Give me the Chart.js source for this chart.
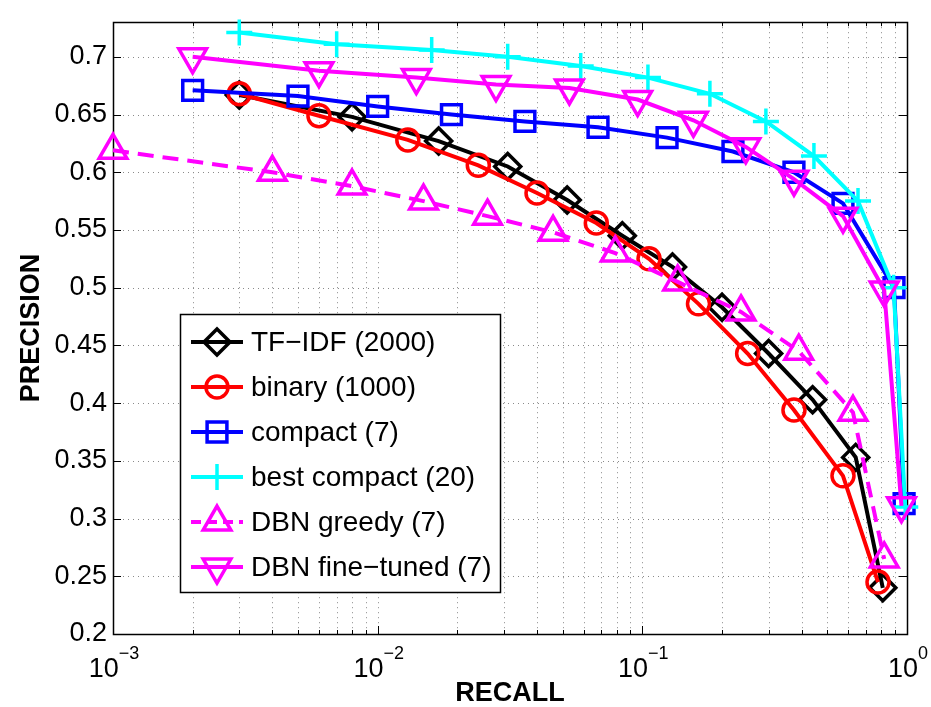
<!DOCTYPE html>
<html>
<head>
<meta charset="utf-8">
<title>Precision / Recall</title>
<script src="https://cdn.jsdelivr.net/npm/chart.js@4.4.1/dist/chart.umd.min.js"></script>
<style>
  html, body { margin: 0; padding: 0; background: #fff; }
  canvas { display: block; }
</style>
</head>
<body>
<canvas id="pr-chart" width="931" height="707"></canvas>
<script>
// ---- data (recall on x, precision on y) ----
const seriesNames = ['TF−IDF (2000)', 'binary (1000)', 'compact (7)', 'best compact (20)', 'DBN greedy (7)', 'DBN fine−tuned (7)'];

const tfidfRecall    = [0.003, 0.008, 0.017, 0.031, 0.052, 0.084, 0.13, 0.20, 0.30, 0.44, 0.64, 0.81];
const tfidfPrecision = [0.667, 0.648, 0.627, 0.605, 0.576, 0.545, 0.518, 0.483, 0.443, 0.403, 0.353, 0.240];

const binaryRecall    = [0.003, 0.006, 0.013, 0.024, 0.040, 0.067, 0.106, 0.163, 0.25, 0.374, 0.573, 0.777];
const binaryPrecision = [0.668, 0.649, 0.628, 0.606, 0.582, 0.556, 0.525, 0.486, 0.443, 0.394, 0.337, 0.245];

const compactRecall    = [0.002, 0.005, 0.010, 0.019, 0.036, 0.068, 0.124, 0.22, 0.374, 0.573, 0.893, 0.975];
const compactPrecision = [0.671, 0.666, 0.657, 0.650, 0.644, 0.639, 0.630, 0.618, 0.600, 0.573, 0.500, 0.313];

const bestRecall    = [0.003, 0.007, 0.016, 0.031, 0.0585, 0.105, 0.18, 0.293, 0.445, 0.653, 0.89, 0.985];
const bestPrecision = [0.721, 0.711, 0.706, 0.700, 0.692, 0.682, 0.668, 0.644, 0.614, 0.575, 0.500, 0.310];

const greedyRecall    = [0.001, 0.004, 0.008, 0.0149, 0.026, 0.046, 0.079, 0.136, 0.236, 0.39, 0.625, 0.82];
const greedyPrecision = [0.619, 0.600, 0.588, 0.575, 0.562, 0.548, 0.530, 0.505, 0.479, 0.445, 0.392, 0.265];

const finetunedRecall    = [0.002, 0.006, 0.014, 0.028, 0.053, 0.096, 0.156, 0.246, 0.374, 0.573, 0.82, 0.953];
const finetunedPrecision = [0.700, 0.688, 0.682, 0.676, 0.673, 0.663, 0.645, 0.622, 0.594, 0.562, 0.498, 0.311];

// ticks
const xDecades = [0.001, 0.01, 0.1, 1];
const xExponents = ['−3', '−2', '−1', '0'];
const xMinorTicks = [0.002, 0.003, 0.004, 0.005, 0.006, 0.007, 0.008, 0.009,
                     0.02, 0.03, 0.04, 0.05, 0.06, 0.07, 0.08, 0.09,
                     0.2, 0.3, 0.4, 0.5, 0.6, 0.7, 0.8, 0.9];
const yTicks = [0.2, 0.25, 0.3, 0.35, 0.4, 0.45, 0.5, 0.55, 0.6, 0.65, 0.7];

const FONT = '"Liberation Sans", Arial, Helvetica, sans-serif';
Chart.defaults.font.family = FONT;
Chart.defaults.color = '#000';

const pts = (xs, ys) => xs.map((v, i) => ({ x: v, y: ys[i] }));

// style per series (matlab-ish: k-d, r-o, b-s, c-+, m--^, m-v)
const styles = [
  { color: '#000000', pointStyle: 'rectRot', radius: 13, rotation: 0, dash: [] },
  { color: '#ff0000', pointStyle: 'circle', radius: 11, rotation: 0, dash: [] },
  { color: '#0000ff', pointStyle: 'rect', radius: 14, rotation: 0, dash: [] },
  { color: '#00ffff', pointStyle: 'cross', radius: 13, rotation: 0, dash: [] },
  { color: '#ff00ff', pointStyle: 'triangle', radius: 16, rotation: 0, dash: [16, 9] },
  { color: '#ff00ff', pointStyle: 'triangle', radius: 16, rotation: 180, dash: [] }
];
const seriesData = [
  pts(tfidfRecall, tfidfPrecision),
  pts(binaryRecall, binaryPrecision),
  pts(compactRecall, compactPrecision),
  pts(bestRecall, bestPrecision),
  pts(greedyRecall, greedyPrecision),
  pts(finetunedRecall, finetunedPrecision)
];

const datasets = seriesData.map((d, i) => ({
  label: seriesNames[i],
  data: d,
  order: seriesNames.length - i,   // later series on top, like matlab
  borderColor: styles[i].color,
  borderWidth: 4,
  borderDash: styles[i].dash,
  pointStyle: styles[i].pointStyle,
  pointRadius: styles[i].radius,
  pointRotation: styles[i].rotation,
  pointBorderColor: styles[i].color,
  pointBackgroundColor: 'rgba(0,0,0,0)',
  pointBorderWidth: 3.5,
  tension: 0,
  clip: false
}));

// grid, box, inward ticks, x labels with exponents, legend
const axesDecor = {
  id: 'axesDecor',
  beforeDatasetsDraw(chart) {
    const { ctx, chartArea: a, scales: { x, y } } = chart;
    ctx.save();
    // dotted grid
    ctx.strokeStyle = '#8a8a8a';
    ctx.lineWidth = 1;
    ctx.setLineDash([1, 4]);
    xDecades.concat(xMinorTicks).forEach(v => {
      const px = Math.round(x.getPixelForValue(v)) + 0.5;
      if (px < a.left + 2 || px > a.right - 2) return;
      ctx.beginPath(); ctx.moveTo(px, a.top); ctx.lineTo(px, a.bottom); ctx.stroke();
    });
    yTicks.forEach(v => {
      const py = Math.round(y.getPixelForValue(v)) + 0.5;
      if (py < a.top + 2 || py > a.bottom - 2) return;
      ctx.beginPath(); ctx.moveTo(a.left, py); ctx.lineTo(a.right, py); ctx.stroke();
    });
    ctx.setLineDash([]);
    // tick marks (inside, all four sides)
    ctx.strokeStyle = '#000';
    ctx.lineWidth = 1;
    const tickX = (v, len) => {
      const px = Math.round(x.getPixelForValue(v)) + 0.5;
      ctx.beginPath();
      ctx.moveTo(px, a.bottom); ctx.lineTo(px, a.bottom - len);
      ctx.moveTo(px, a.top); ctx.lineTo(px, a.top + len);
      ctx.stroke();
    };
    xDecades.forEach(v => tickX(v, 8));
    xMinorTicks.forEach(v => tickX(v, 4));
    yTicks.forEach(v => {
      const py = Math.round(y.getPixelForValue(v)) + 0.5;
      ctx.beginPath();
      ctx.moveTo(a.left, py); ctx.lineTo(a.left + 8, py);
      ctx.moveTo(a.right, py); ctx.lineTo(a.right - 8, py);
      ctx.stroke();
    });
    // box
    ctx.lineWidth = 1.5;
    ctx.strokeRect(Math.round(a.left) + 0.5, Math.round(a.top) + 0.5,
                   Math.round(a.right - a.left), Math.round(a.bottom - a.top));
    ctx.restore();
  },
  afterDatasetsDraw(chart) {
    const { ctx, scales: { x } } = chart;
    ctx.save();
    // x tick labels: 10 with superscript exponent
    ctx.fillStyle = '#000';
    ctx.textAlign = 'left';
    ctx.textBaseline = 'alphabetic';
    xDecades.forEach((v, i) => {
      const px = x.getPixelForValue(v);
      ctx.font = '27px ' + FONT;
      const wb = ctx.measureText('10').width;
      ctx.font = '18px ' + FONT;
      const we = ctx.measureText(xExponents[i]).width;
      const left = px - (wb + we) / 2 + 1;
      ctx.font = '27px ' + FONT;
      ctx.fillText('10', left, 677);
      ctx.font = '18px ' + FONT;
      ctx.fillText(xExponents[i], left + wb, 659);
    });

    // legend box
    const bx = 180.5, by = 314.5, bw = 320, bh = 278;
    ctx.fillStyle = '#fff';
    ctx.fillRect(bx, by, bw, bh);
    ctx.strokeStyle = '#000';
    ctx.lineWidth = 1.5;
    ctx.strokeRect(bx, by, bw, bh);
    seriesNames.forEach((name, i) => {
      const st = styles[i];
      const ry = 342 + i * 45;
      ctx.strokeStyle = st.color;
      ctx.lineWidth = 4;
      ctx.setLineDash(st.dash.length ? [10, 6] : []);
      ctx.beginPath(); ctx.moveTo(191, ry); ctx.lineTo(243, ry); ctx.stroke();
      ctx.setLineDash([]);
      ctx.fillStyle = 'rgba(0,0,0,0)';
      ctx.lineWidth = 3.5;
      Chart.helpers.drawPoint(ctx, {
        pointStyle: st.pointStyle, radius: st.radius, rotation: st.rotation, borderWidth: 3.5
      }, 217, ry);
      ctx.fillStyle = '#000';
      ctx.font = '28px ' + FONT;
      ctx.textBaseline = 'middle';
      ctx.fillText(name, 251, ry + 1);
      ctx.textBaseline = 'alphabetic';
    });
    ctx.restore();
  }
};

new Chart(document.getElementById('pr-chart'), {
  type: 'line',
  data: { datasets },
  options: {
    responsive: false,
    animation: false,
    devicePixelRatio: 1,
    layout: { padding: { top: 12, right: 24, left: 0, bottom: 0 } },
    plugins: { legend: { display: false }, tooltip: { enabled: false } },
    scales: {
      x: {
        type: 'logarithmic',
        min: 0.001,
        max: 1,
        afterBuildTicks: s => { s.ticks = xDecades.map(v => ({ value: v })); },
        afterFit: s => { s.height = 73; },
        ticks: { display: false },
        grid: { display: false, drawTicks: false },
        border: { display: false },
        title: { display: true, text: 'RECALL', color: '#000',
                 font: { size: 27, weight: 'bold', lineHeight: 1 }, padding: { top: 0, bottom: 0 } }
      },
      y: {
        type: 'linear',
        min: 0.2,
        max: 0.73,
        afterBuildTicks: s => { s.ticks = yTicks.map(v => ({ value: v })); },
        afterFit: s => { s.width = 113; },
        ticks: {
          color: '#000',
          font: { size: 27 },
          padding: 6,
          callback: v => String(Math.round(v * 100) / 100)
        },
        grid: { display: false, drawTicks: false },
        border: { display: false },
        title: { display: true, text: 'PRECISION', color: '#000',
                 font: { size: 27, weight: 'bold', lineHeight: 1 }, padding: { top: 18, bottom: 0 } }
      }
    }
  },
  plugins: [axesDecor]
});
</script>
</body>
</html>
